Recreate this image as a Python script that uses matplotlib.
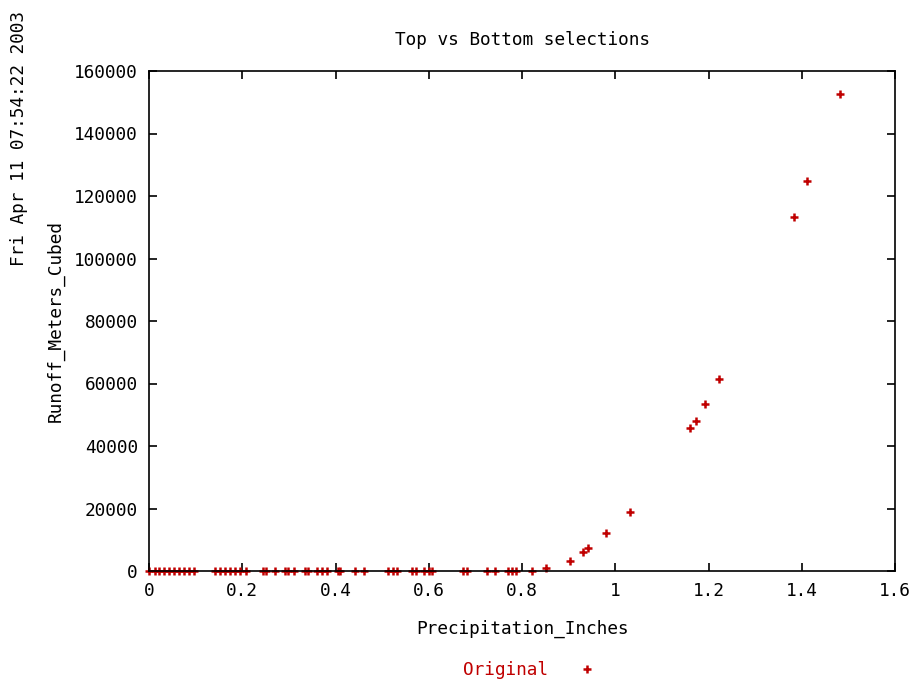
import matplotlib
matplotlib.use("Agg")
import matplotlib.pyplot as plt
import numpy as np

# Precipitation (inches) vs runoff (m^3)
precip = [0.0, 0.012, 0.022, 0.032, 0.043, 0.054, 0.065, 0.075, 0.086, 0.097,
          0.142, 0.152, 0.163, 0.174, 0.184, 0.195, 0.208,
          0.245, 0.252, 0.270, 0.292, 0.299, 0.31, 0.335, 0.342,
          0.36, 0.37, 0.381, 0.405, 0.409, 0.442, 0.462,
          0.513, 0.523, 0.531, 0.565, 0.572, 0.590, 0.600, 0.608,
          0.674, 0.681, 0.724, 0.743, 0.769, 0.779, 0.788, 0.821,
          0.852, 0.903, 0.930, 0.942, 0.981, 1.032,
          1.160, 1.173, 1.192, 1.223, 1.383, 1.411, 1.481]
runoff = [0] * 48 + [960, 3300, 6200, 7400, 12100, 19000,
                     45800, 48100, 53300, 61400, 113200, 124800, 152700]

xticks = [0, 0.2, 0.4, 0.6, 0.8, 1, 1.2, 1.4, 1.6]
xlabels = ["0", "0.2", "0.4", "0.6", "0.8", "1", "1.2", "1.4", "1.6"]
yticks = [0, 20000, 40000, 60000, 80000, 100000, 120000, 140000, 160000]

red = "#c00000"
fs = 12.8
plt.rcParams['font.family'] = ['DejaVu Sans Mono']
plt.rcParams['font.size'] = fs

fig = plt.figure(figsize=(9.13, 6.85), dpi=100)
ax = fig.add_axes([149/913, 1-571/685, (895-149)/913, (571-71)/685])

ax.plot(precip, runoff, linestyle='none', marker='+', color=red,
        markersize=5.5, markeredgewidth=1.8, clip_on=False, label='Original')

ax.set_xlim(0, 1.6)
ax.set_ylim(0, 160000)
ax.set_xticks(xticks)
ax.set_xticklabels(xlabels)
ax.set_yticks(yticks)
ax.set_yticklabels([str(v) for v in yticks])
ax.tick_params(direction='in', length=6, width=1.2, top=True, right=True,
               labelsize=fs, pad=8)
for s in ax.spines.values():
    s.set_linewidth(1.2)

ax.set_title("Top vs Bottom selections", fontsize=fs, pad=19)
ax.set_xlabel("Precipitation_Inches", fontsize=fs, labelpad=14)
ax.set_ylabel("Runoff_Meters_Cubed", fontsize=fs, labelpad=7)

fig.text(19/913, 1-139/685, "Fri Apr 11 07:54:22 2003", rotation=90,
         ha='center', va='center', fontsize=fs)

leg = fig.legend(loc='center', bbox_to_anchor=(537/913, 1-670/685),
                 frameon=False, markerfirst=False, handlelength=2.8,
                 fontsize=fs, labelcolor=red)

fig.savefig("out.png", dpi=100)
